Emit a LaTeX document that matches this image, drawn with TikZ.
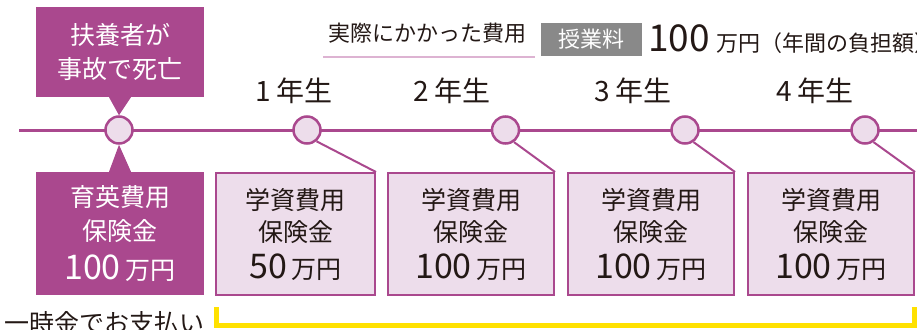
\documentclass[tikz,border=0pt]{standalone}
\usepackage{fontspec}
\setmainfont{Noto Sans CJK JP}
\usetikzlibrary{positioning}
\definecolor{plum}{HTML}{AA488E}
\definecolor{plumlight}{HTML}{EDDDEB}
\definecolor{lineink}{HTML}{231815}
\definecolor{legendgray}{HTML}{898989}
\definecolor{legendline}{HTML}{DDB3D2}
\definecolor{bracketyellow}{HTML}{FFE100}
\newcommand{\manen}[1]{{\fontsize{34}{34}\selectfont #1}\hspace{5pt}万円}

\begin{document}
\begin{tikzpicture}[
        x=1pt, y=-1pt,
        every node/.style={text=lineink, inner sep=0pt},
        yeardot/.style={circle, draw=plum, fill=plumlight, line width=2.5pt, minimum size=27pt},
        darkbox/.style={fill=plum, text=white, align=center, minimum width=168pt,
            font=\fontsize{25}{34}\selectfont},
        paybox/.style={draw=plum, fill=plumlight, line width=2pt, align=center,
            minimum width=166pt, minimum height=122pt, font=\fontsize{25}{32}\selectfont},
        yearlabel/.style={font=\fontsize{28}{28}\selectfont},
        tail/.style={plum, line width=2pt},
    ]
    \useasboundingbox (0,0) rectangle (917,329);

    % time line
    \draw[plum, line width=3pt] (19,130) -- (925,130);
    \node[yeardot] (d0) at (119,130) {};
    \node[yeardot] (d1) at (307,130) {};
    \node[yeardot] (d2) at (505.5,130) {};
    \node[yeardot] (d3) at (685,130) {};
    \node[yeardot] (d4) at (865,130) {};

    \node[yearlabel] (y1) at (294,91) {1 年生};
    \node[yearlabel] (y2) at (452,91) {2 年生};
    \node[yearlabel] (y3) at (633,91) {3 年生};
    \node[yearlabel] (y4) at (815,91) {4 年生};

    % lump sum
    \node[darkbox, minimum height=90pt] (death) at (120,52) {扶養者が\\事故で死亡};
    \fill[plum] ([xshift=-11pt]death.south) -- ([xshift=11pt]death.south) -- (d0.north) -- cycle;
    \node[darkbox, minimum height=123pt] (lump) at (120,233.5) {育英費用\\保険金\\[5pt]\manen{100}};
    \fill[plum] ([xshift=-11pt]lump.north) -- ([xshift=11pt]lump.north) -- (d0.south) -- cycle;

    % yearly payments
    \node[paybox, minimum width=159pt] (pay1) at (295.5,234) {学資費用\\保険金\\[5pt]\manen{50}};
    \node[paybox] (pay2) at (471,234) {学資費用\\保険金\\[5pt]\manen{100}};
    \node[paybox] (pay3) at (651,234) {学資費用\\保険金\\[5pt]\manen{100}};
    \node[paybox] (pay4) at (831,234) {学資費用\\保険金\\[5pt]\manen{100}};
    \draw[tail] (d1.-50) -- (pay1.north east);
    \draw[tail] (d2.-55) -- (pay2.north east);
    \draw[tail] (d3.-55) -- (pay3.north east);
    \draw[tail] (d4.-55) -- (pay4.north east);

    % legend
    \node[font=\fontsize{22}{22}\selectfont] (paid) at (427,33) {実際にかかった費用};
    \draw[legendline, line width=2pt] (323,57) -- (535,57);
    \node[fill=legendgray, text=white, minimum width=101pt, minimum height=33pt,
        font=\fontsize{22}{22}\selectfont] (fee) at (591.5,39.5) {授業料};
    \node[anchor=base west, font=\fontsize{22}{22}\selectfont] (feeamt) at (648,52)
        {{\fontsize{37}{37}\selectfont 100}\hspace{7pt}万円（年間の負担額）};

    % payment note
    \node[anchor=west, font=\fontsize{25}{25}\selectfont] (lumpnote) at (4,323) {一時金でお支払い};
    \draw[bracketyellow, line width=5pt] (216,307) |- (914,325.5) -- (914,307);
\end{tikzpicture}
\end{document}
